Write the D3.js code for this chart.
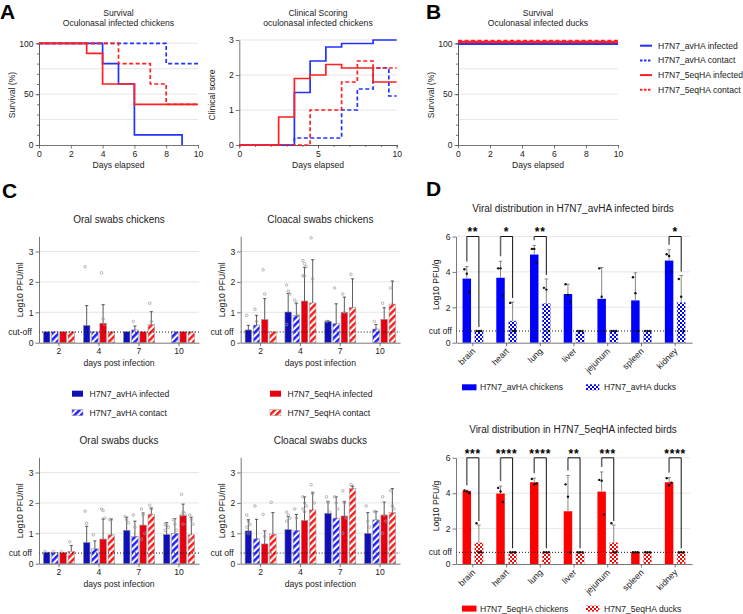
<!DOCTYPE html>
<html>
<head>
<meta charset="utf-8">
<script src="https://cdn.jsdelivr.net/npm/d3@7"></script>
<style>
body{margin:0;background:#fff;}
svg{font-family:"Liberation Sans",Arial,sans-serif;}
.axis path,.axis line{stroke:#555;stroke-width:0.8px;}
.axis text{fill:#222;font-size:8.6px;font-family:"Liberation Sans",Arial,sans-serif;}
.grid{stroke:#e0e0e0;stroke-width:0.8px;}
</style>
</head>
<body>
<svg id="fig" width="743" height="614"></svg>
<script>
// ---------- data ----------
var seriesNames=["H7N7_avHA infected","H7N7_avHA contact","H7N7_5eqHA infected","H7N7_5eqHA contact"];

// survival chickens [day, % alive]
var survAvInf=[[0,100],[4,80],[5,60],[6,10],[9,0]];
var survAvCon=[[0,100],[8,80],[10,80]];
var survEqInf=[[0,100],[3,90],[4,60],[6,40],[10,40]];
var survEqCon=[[0,100],[5,80],[7,60],[8,40],[10,40]];
// survival ducks (all survived)
var duckSurvAll=[[0,100],[10,100]];
// clinical score chickens [day, score]
var clinAvInf=[[0,0],[3.5,1.5],[4.5,2.4],[5.5,2.8],[6.5,2.9],[8.5,3.0],[10,3.0]];
var clinAvCon=[[0,0],[3.5,0.2],[6.5,1.0],[7.5,1.6],[8.5,2.2],[9.5,1.4],[10,1.4]];
var clinEqInf=[[0,0],[2.5,0.8],[3.5,1.9],[4.5,2.0],[5.5,2.3],[6.5,2.2],[8.5,1.8],[10,1.8]];
var clinEqCon=[[0,0],[4.5,1.0],[6.5,1.8],[7.5,2.4],[8.5,2.2],[10,2.2]];

// swabs: rows = days, columns = groups (avHA inf, avHA con, 5eqHA inf, 5eqHA con)
var swabDays=["2","4","7","10"];
var swabCutoff=0.35;
var oralChkMean=[[0.36,0.36,0.36,0.36],[0.57,0.36,0.64,0.36],[0.36,0.42,0.36,0.6],[null,0.36,0.36,0.36]];
var oralChkTop=[[null,null,null,null],[1.22,null,1.25,null],[null,0.55,null,1.02],[null,null,null,null]];
var oralChkPts=[[[],[],[],[]],[[2.5],[],[2.3,0.78,0.6],[]],[[],[0.7],[],[1.3,0.7]],[[],[],[],[]]];

var cloChkMean=[[0.42,0.58,0.76,0.36],[1.01,0.9,1.37,1.31],[0.7,0.63,1.0,1.16],[null,0.45,0.77,1.27]];
var cloChkTop=[[0.57,0.9,1.45,null],[1.62,1.3,2.48,2.73],[0.72,1.28,1.5,2.1],[null,0.6,1.15,2.03]];
var cloChkPts=[[[0.9],[1.1,0.7],[2.4,1.6],[]],[[1.9,1.7,1.6,0.6],[1.4,1.3,0.9],[2.7,2.6,2.5,2.2,2.2],[3.45,2.1]],[[0.7],[1.8],[1.6,1.0],[2.25]],[[],[0.7],[1.3],[1.8]]];

var oralDuckMean=[[0.38,0.37,0.37,0.41],[0.7,0.49,0.81,0.95],[1.1,0.9,1.27,1.63],[0.96,1.0,1.58,0.95]];
var oralDuckTop=[[null,null,null,0.6],[1.23,0.75,1.47,1.47],[1.53,1.4,1.67,1.83],[1.35,1.48,1.96,1.53]];
var oralDuckPts=[[[0.4],[0.4],[0.4],[0.72]],[[1.73,1.33],[0.95],[1.8,1.75,1.5],[1.45,1.45]],[[1.55,1.45,1.35],[1.6,1.2],[1.8,1.6,1.0,0.8],[1.92,1.8]],[[1.3,1.25,1.2,1.1],[1.45,1.3,1.1],[2.28,1.7,1.65,1.6,1.3],[1.6,1.45,1.3,0.8]]];

var cloDuckMean=[[1.08,0.82,0.65,0.97],[1.12,1.1,1.42,1.77],[1.66,1.5,1.57,2.47],[1.0,1.44,1.6,1.68]];
var cloDuckTop=[[1.45,1.46,1.08,1.68],[1.55,1.62,2.2,2.35],[2.05,2.2,2.05,2.55],[1.68,1.72,2.03,2.47]];
var cloDuckPts=[[[1.6,1.4,1.3,1.2,1.0],[1.9],[1.62,0.9],[2.02]],[[1.7,1.6,1.5,1.4],[1.8,1.5],[2.2,2.0,1.9,1.8,1.7],[2.6,2.3,2.0]],[[2.2,2.0,1.7],[2.2,2.0,1.8],[2.4,2.0,1.5,1.0],[2.6,2.55]],[[1.9,1.4,1.2],[1.72,1.7,1.4],[2.2,1.6,1.4,1.0],[2.4,1.9,1.8]]];

// organs
var organs=["brain","heart","lung","liver","jejunum","spleen","kidney"];
var organCutoff=0.66;
var avChkMean=[3.62,3.67,4.98,2.75,2.48,2.39,4.64];
var avChkTop=[4.3,4.6,5.5,3.3,4.25,3.95,5.25];
var avChkPts=[[4.15,3.9,2.84],[4.2,4.2,2.65],[5.3,5.3,4.5],[3.3,2.7,2.3],[4.2,2.6,0.66],[3.7,2.8,0.66],[5.0,4.9,4.0]];
var avDuckMean=[0.66,1.23,2.23,0.66,0.66,0.66,2.29];
var avDuckTop=[null,2.3,3.6,null,null,null,3.8];
var avDuckPts=[[0.66,0.66,0.66],[2.25,0.66,0.66],[3.1,3.0,0.66],[0.66,0.66,0.66],[0.66,0.66,0.66],[0.66,0.66,0.66],[3.6,2.6,0.66]];
var avSig=["**","*","**","","","","*"];

var eqChkMean=[4.13,3.98,4.62,2.98,4.09,0.66,4.62];
var eqChkTop=[4.17,4.4,4.85,5.0,5.2,null,4.88];
var eqChkPts=[[4.15,4.1,4.0],[4.3,4.1,3.5],[4.8,4.5,4.55],[4.5,3.8,0.66],[4.75,4.7,2.8],[0.66,0.66,0.66],[4.85,4.45,4.6]];
var eqDuckMean=[1.2,0.66,0.66,0.66,1.22,0.66,0.66];
var eqDuckTop=[2.2,null,null,null,2.2,null,null];
var eqDuckPts=[[2.3,0.66,0.66],[0.66,0.66,0.66],[0.66,0.66,0.66],[0.66,0.66,0.66],[2.3,0.66,0.66],[0.66,0.66,0.66],[0.66,0.66,0.66]];
var eqSig=["***","****","****","**","***","","****"];

// ---------- drawing ----------
var svg=d3.select("#fig");
var lineBlue="#2233ff", lineRed="#ff2020";
var cBlue="#1010b8", cBlueL="#2020ff", cRed="#e80010", cRedL="#ff1a1a";
var dBlue="#0000ff", dRed="#ff0000";
var FS=8.6;
var intFmt=d3.format("d");

var defs=svg.append("defs");
function stripes(id,col){
	var p=defs.append("pattern").attr("id",id).attr("patternUnits","userSpaceOnUse")
		.attr("width",4.6).attr("height",4.6).attr("patternTransform","rotate(45)");
	p.append("rect").attr("width",4.6).attr("height",4.6).attr("fill","#fff");
	p.append("rect").attr("width",2.5).attr("height",4.6).attr("fill",col);
}
function checks(id,col){
	var p=defs.append("pattern").attr("id",id).attr("patternUnits","userSpaceOnUse")
		.attr("width",4).attr("height",4);
	p.append("rect").attr("width",4).attr("height",4).attr("fill",col);
	p.append("rect").attr("width",2).attr("height",2).attr("fill","#fff");
	p.append("rect").attr("x",2).attr("y",2).attr("width",2).attr("height",2).attr("fill","#fff");
}
stripes("strBlue",cBlueL); stripes("strRed",cRedL);
checks("chkBlue",dBlue); checks("chkRed",dRed);

function panelLetter(t,x,y){
	svg.append("text").attr("x",x).attr("y",y).text(t)
		.style("font-size","21px").style("font-weight","bold").style("font-family","'Liberation Sans',Arial,sans-serif");
}
panelLetter("A",0,19); panelLetter("B",426,19); panelLetter("C",2,198); panelLetter("D",426,196);

function text(x,y,t,opts){
	opts=opts||{};
	var el=svg.append("text").attr("x",x).attr("y",y).text(t)
		.style("font-size",(opts.size||FS)+"px")
		.attr("text-anchor",opts.anchor||"middle").attr("fill","#222");
	if(opts.rot) el.attr("transform","rotate(-90,"+x+","+y+")");
	return el;
}

// ---- survival / clinical line plots ----
var stepLine=function(x,y,off){
	return d3.line().curve(d3.curveStepAfter).x(function(d){return x(d[0]);}).y(function(d){return y(d[1])+(off||0);});
};
var styles=[{c:lineBlue,dash:null},{c:lineBlue,dash:"4,2.5"},{c:lineRed,dash:null},{c:lineRed,dash:"4,2.5"}];

function linePlot(x0,x1,yMax,yTop,ticksY,minorY,ticksX,minorX,title1,title2,ylab,series,offsets,lw){
	var x=d3.scaleLinear().domain([0,10]).range([x0,x1]);
	var y=d3.scaleLinear().domain([0,yMax]).range([145,yTop]);
	var g=svg.append("g");
	g.selectAll(".grid").data(ticksY.slice(1).concat(minorY?[yMax/4,yMax*3/4]:[])).enter().append("line")
		.attr("class","grid").attr("x1",x0).attr("x2",x1).attr("y1",y).attr("y2",y);
	if(minorY){
		g.append("g").attr("class","axis").attr("transform","translate("+x0+",0)")
			.call(d3.axisLeft(y).tickValues(minorY).tickSize(2).tickFormat(""));
	}
	g.append("g").attr("class","axis").attr("transform","translate("+x0+",0)")
		.call(d3.axisLeft(y).tickValues(ticksY).tickFormat(intFmt).tickSize(3.5).tickSizeOuter(0).tickPadding(2));
	if(minorX){
		g.append("g").attr("class","axis").attr("transform","translate(0,145)")
			.call(d3.axisBottom(x).tickValues(minorX).tickSize(2).tickFormat(""));
	}
	g.append("g").attr("class","axis").attr("transform","translate(0,145)")
		.call(d3.axisBottom(x).tickValues(ticksX).tickFormat(intFmt).tickSize(3.5).tickSizeOuter(0).tickPadding(2));
	series.forEach(function(s,i){
		g.append("path").datum(s).attr("d",stepLine(x,y,offsets?offsets[i]:0)).attr("fill","none")
			.attr("stroke",styles[i].c).attr("stroke-width",lw).attr("stroke-dasharray",styles[i].dash);
	});
	var cx=(x0+x1)/2;
	text(cx,15.5,title1); text(cx,25.5,title2);
	text(cx,168,"Days elapsed");
	text(x0-24,95,ylab,{rot:true});
}
linePlot(39,198,100,43.3,[0,50,100],d3.range(0,101,10),d3.range(0,11,2),null,
	"Survival","Oculonasal infected chickens","Survival (%)",[survAvInf,survAvCon,survEqInf,survEqCon],null,1.7);
linePlot(239.3,396.7,3,40,[0,1,2,3],null,[0,5,10],d3.range(0,11,1),
	"Clinical Scoring","oculonasal infected chickens","Clinical score",[clinAvInf,clinAvCon,clinEqInf,clinEqCon],null,1.7);
linePlot(458,618,100,43.3,[0,50,100],d3.range(0,101,10),d3.range(0,11,2),null,
	"Survival","Oculonasal infected ducks","Survival (%)",[duckSurvAll,duckSurvAll,duckSurvAll,duckSurvAll],[0.4,-0.4,-1.3,-2.3],2.4);

// legend B
seriesNames.forEach(function(n,i){
	var yy=45.7+i*14.7;
	svg.append("line").attr("x1",640).attr("x2",652).attr("y1",yy).attr("y2",yy)
		.attr("stroke",styles[i].c).attr("stroke-width",2).attr("stroke-dasharray",styles[i].dash?"2.5,1.5":null);
	text(658,yy+3,n,{anchor:"start"});
});

// ---- swab bar charts ----
var swabFills=[cBlue,"url(#strBlue)",cRed,"url(#strRed)"];
function swabPanel(x0,x1,yBase,title,mean,top,pts,cutLabel){
	var per=30.4;
	var x=d3.scaleBand().domain(swabDays).range([x0,x1]).paddingInner(0.22).paddingOuter(0.11);
	var xi=d3.scaleBand().domain([0,1,2,3]).range([0,x.bandwidth()]).paddingInner(0.2);
	var y=d3.scaleLinear().domain([0,3.5]).range([yBase,yBase-3.5*per]);
	var g=svg.append("g");
	g.selectAll(".grid").data([1,2,3]).enter().append("line").attr("class","grid")
		.attr("x1",x0).attr("x2",x1).attr("y1",y).attr("y2",y);
	var cells=[];
	swabDays.forEach(function(d,di){
		for(var k=0;k<4;k++) cells.push({day:d,k:k,m:mean[di][k],t:top[di][k],p:pts[di][k]});
	});
	var has=cells.filter(function(c){return c.m!=null;});
	g.selectAll(".bar").data(has).enter().append("rect")
		.attr("x",function(c){return x(c.day)+xi(c.k);})
		.attr("width",xi.bandwidth())
		.attr("y",function(c){return y(c.m);})
		.attr("height",function(c){return yBase-y(c.m);})
		.attr("fill",function(c){return swabFills[c.k];})
		.attr("stroke","#9a9a9a").attr("stroke-width",0.6);
	var eb=has.filter(function(c){return c.t!=null;});
	g.selectAll(".eb").data(eb).enter().append("path")
		.attr("d",function(c){
			var cx=x(c.day)+xi(c.k)+xi.bandwidth()/2;
			return "M"+cx+","+y(c.m)+"V"+y(c.t)+"M"+(cx-1.6)+","+y(c.t)+"H"+(cx+1.6);
		}).attr("stroke","#333").attr("stroke-width",0.8).attr("fill","none");
	has.forEach(function(c){
		var cx=x(c.day)+xi(c.k)+xi.bandwidth()/2;
		g.selectAll(null).data(c.p).enter().append("circle")
			.attr("cx",function(v,i){return cx+((i%3)-1)*1.6;})
			.attr("cy",function(v){return y(v);})
			.attr("r",1.3).attr("fill","none").attr("stroke","#9a9a9a").attr("stroke-width",0.7);
	});
	g.append("line").attr("x1",x0).attr("x2",x1).attr("y1",y(swabCutoff)).attr("y2",y(swabCutoff))
		.attr("stroke","#111").attr("stroke-width",1).attr("stroke-dasharray","1,2");
	g.append("g").attr("class","axis").attr("transform","translate("+x0+",0)")
		.call(d3.axisLeft(y).tickValues([0,1,2,3]).tickFormat(intFmt).tickSize(3.5).tickSizeOuter(0).tickPadding(2));
	g.append("g").attr("class","axis").attr("transform","translate(0,"+yBase+")")
		.call(d3.axisBottom(x).tickSize(3.5).tickSizeOuter(0).tickPadding(2));
	text(x0-7,y(swabCutoff)+3,cutLabel,{anchor:"end"});
	var cx=(x0+x1)/2;
	text(cx,yBase-120,title,{size:10});
	text(cx,yBase+23,"days post infection");
	text(x0-16,yBase-53,"Log10 PFU/ml",{rot:true});
}
swabPanel(39,199,342.7,"Oral swabs chickens",oralChkMean,oralChkTop,oralChkPts,"cut-off");
swabPanel(240.7,400,342.7,"Cloacal swabs chickens",cloChkMean,cloChkTop,cloChkPts,"cut off");
swabPanel(39,199,563.7,"Oral swabs ducks",oralDuckMean,oralDuckTop,oralDuckPts,"cut off");
swabPanel(240.7,400,563.7,"Cloacal swabs ducks",cloDuckMean,cloDuckTop,cloDuckPts,"cut off");

// C legend
[[0,72],[1,72],[2,270],[3,270]].forEach(function(a){
	var i=a[0], yy=393.7+(i%2)*19;
	svg.append("rect").attr("x",a[1]).attr("y",yy-3).attr("width",11).attr("height",6)
		.attr("fill",swabFills[i]).attr("stroke",i%2?"#9a9a9a":"none").attr("stroke-width",0.5);
	text(a[1]+17.5,yy+3,seriesNames[i],{anchor:"start"});
});

// ---- organ distribution ----
function organPanel(yBase,title,chkMean,chkTop,chkPts,duckMean,duckTop,duckPts,sig,col,pat,legNames){
	var x=d3.scaleBand().domain(organs).range([456,692]).paddingInner(0.39).paddingOuter(0.195);
	var xi=d3.scaleBand().domain([0,1]).range([0,x.bandwidth()]).paddingInner(0.3);
	var y=d3.scaleLinear().domain([0,6]).range([yBase,yBase-6*17.7]);
	var g=svg.append("g");
	g.selectAll(".grid").data([2,4,6]).enter().append("line").attr("class","grid")
		.attr("x1",456).attr("x2",690).attr("y1",y).attr("y2",y);
	var cells=[];
	organs.forEach(function(o,i){
		cells.push({o:o,k:0,m:chkMean[i],t:chkTop[i],p:chkPts[i]});
		cells.push({o:o,k:1,m:duckMean[i],t:duckTop[i],p:duckPts[i]});
	});
	var cxOf=function(c){return x(c.o)+xi(c.k)+xi.bandwidth()/2;};
	g.selectAll(".bar").data(cells).enter().append("rect")
		.attr("x",function(c){return x(c.o)+xi(c.k);})
		.attr("width",xi.bandwidth())
		.attr("y",function(c){return y(c.m);})
		.attr("height",function(c){return yBase-y(c.m);})
		.attr("fill",function(c){return c.k?pat:col;})
		.attr("stroke",function(c){return c.k?"#c8c8c8":"none";}).attr("stroke-width",0.5);
	g.selectAll(".eb").data(cells.filter(function(c){return c.t!=null;})).enter().append("path")
		.attr("d",function(c){
			var cx=cxOf(c);
			return "M"+cx+","+y(c.m)+"V"+y(c.t)+"M"+(cx-1.8)+","+y(c.t)+"H"+(cx+1.8);
		}).attr("stroke","#888").attr("stroke-width",1).attr("fill","none");
	cells.forEach(function(c){
		var cx=cxOf(c);
		g.selectAll(null).data(c.p).enter().append("circle")
			.attr("cx",function(v,i){return cx+((i%3)-1)*2.4;})
			.attr("cy",function(v){return y(v);})
			.attr("r",1.2).attr("fill","#111");
	});
	g.append("line").attr("x1",456).attr("x2",690).attr("y1",y(organCutoff)).attr("y2",y(organCutoff))
		.attr("stroke","#111").attr("stroke-width",1).attr("stroke-dasharray","1,2");
	// significance brackets
	organs.forEach(function(o,i){
		if(!sig[i]) return;
		var a=x(o)+xi(0)+xi.bandwidth()/2, b=x(o)+xi(1)+xi.bandwidth()/2;
		var la=y(chkTop[i]!=null?chkTop[i]:chkMean[i])-5, lb=y(duckTop[i]!=null?duckTop[i]:duckMean[i])-4;
		g.append("path").attr("d","M"+a+","+la+"V"+y(6)).attr("stroke","#666").attr("stroke-width",1.5).attr("fill","none");
		g.append("path").attr("d","M"+a+","+y(6)+"H"+b+"V"+lb).attr("stroke","#111").attr("stroke-width",1).attr("fill","none");
		g.append("text").attr("x",(a+b)/2).attr("y",y(6)-0.3).attr("text-anchor","middle")
			.style("font-size","12px").style("font-weight","bold").style("letter-spacing","0.8px").text(sig[i]);
	});
	g.append("g").attr("class","axis").attr("transform","translate(456,0)")
		.call(d3.axisLeft(y).tickValues([0,2,4,6]).tickFormat(intFmt).tickSize(3.5).tickSizeOuter(0).tickPadding(2));
	var xa=g.append("g").attr("class","axis").attr("transform","translate(0,"+yBase+")")
		.call(d3.axisBottom(x).tickSize(3.5).tickSizeOuter(0));
	xa.selectAll("text").attr("text-anchor","end").attr("dy",null)
		.attr("transform","translate(3,9) rotate(-45)").attr("y",0).attr("x",0).style("font-size","8.8px");
	text(452,y(organCutoff)+3,"cut off",{anchor:"end"});
	text(573,yBase-131,title,{size:10});
	text(439,yBase-58,"Log10 PFU/g",{rot:true});
	var ly=yBase+44.6;
	g.append("rect").attr("x",462).attr("y",ly-3).attr("width",14.5).attr("height",6).attr("fill",col);
	text(480,ly+3,legNames[0],{anchor:"start"});
	g.append("rect").attr("x",586).attr("y",ly-3).attr("width",13.3).attr("height",6).attr("fill",pat);
	text(604,ly+3,legNames[1],{anchor:"start"});
}
organPanel(342.7,"Viral distribution in H7N7_avHA infected birds",avChkMean,avChkTop,avChkPts,avDuckMean,avDuckTop,avDuckPts,avSig,dBlue,"url(#chkBlue)",["H7N7_avHA chickens","H7N7_avHA ducks"]);
organPanel(564,"Viral distribution in H7N7_5eqHA infected birds",eqChkMean,eqChkTop,eqChkPts,eqDuckMean,eqDuckTop,eqDuckPts,eqSig,dRed,"url(#chkRed)",["H7N7_5eqHA chickens","H7N7_5eqHA ducks"]);
</script>
</body>
</html>
